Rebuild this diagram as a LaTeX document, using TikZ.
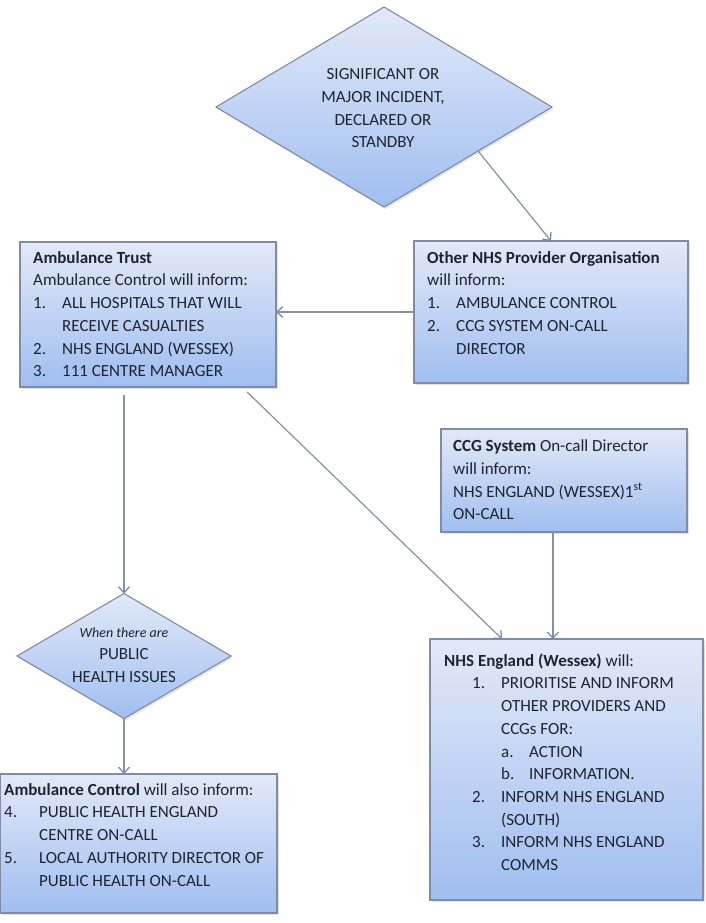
\documentclass[tikz,border=0pt]{standalone}
\usepackage{fontspec}
\setmainfont{Carlito}
\usetikzlibrary{shapes.geometric,arrows.meta,calc,shadows}
\definecolor{topc}{HTML}{E2E9F8}
\definecolor{botc}{HTML}{A0BEF0}
\definecolor{bordc}{HTML}{7F8CA4}
\definecolor{textc}{HTML}{1F2433}
\definecolor{linec}{HTML}{8A909C}
\definecolor{tipc}{HTML}{6F88B0}
\newcommand\fs{\fontsize{17}{22.7}\selectfont}
\newcommand\fst{\rule{0pt}{14pt}}
\newcommand\nb[2]{\makebox[#1][l]{#2}}
\tikzset{
  box/.style={draw=bordc, line width=1.1pt, top color=topc, bottom color=botc,
    inner sep=0pt, outer sep=0pt, anchor=north west,
    drop shadow={opacity=0.22, shadow xshift=1.5pt, shadow yshift=-2pt}},
  dia/.style={shape=diamond, draw=bordc, line width=1.1pt, top color=topc, bottom color=botc,
    inner sep=0pt, outer sep=0pt,
    drop shadow={opacity=0.22, shadow xshift=1.5pt, shadow yshift=-2pt}},
  txt/.style={font=\fs, text=textc, align=left, inner sep=0pt, anchor=north west},
  arr/.style={draw=linec, line width=1.2pt, -{Straight Barb[length=6pt,width=11pt,color=tipc]}},
}
\begin{document}
\begin{tikzpicture}[x=1pt,y=-1pt]
\useasboundingbox (0,0) rectangle (705,923);
% shapes
\node[dia, minimum width=336pt, minimum height=200pt] (inc) at (384,107) {};
\node[box, minimum width=256pt, minimum height=145pt] (amb) at (20,242) {};
\node[box, minimum width=274pt, minimum height=142pt] (oth) at (414,241) {};
\node[box, minimum width=246pt, minimum height=103pt] (ccg) at (441,429) {};
\node[dia, minimum width=214pt, minimum height=125pt] (phi) at (124,656) {};
\node[box, minimum width=273pt, minimum height=261pt] (nhs) at (430,639) {};
\node[box, minimum width=277pt, minimum height=139pt] (alo) at (0,774) {};
% texts
\node[txt, anchor=north, align=center] (incT) at (383,65.5)
  {\fst SIGNIFICANT OR\\MAJOR INCIDENT,\\DECLARED OR\\STANDBY};
\node[txt] (ambT) at (33,249)
  {\fst\textbf{Ambulance Trust}\\
   Ambulance Control will inform:\\
   \nb{29pt}{1.}ALL HOSPITALS THAT WILL\\
   \hspace*{29pt}RECEIVE CASUALTIES\\
   \nb{29pt}{2.}NHS ENGLAND (WESSEX)\\
   \nb{29pt}{3.}111 CENTRE MANAGER};
\node[txt] (othT) at (427,249)
  {\fst\textbf{Other NHS Provider Organisation}\\
   will inform:\\
   \nb{29pt}{1.}AMBULANCE CONTROL\\
   \nb{29pt}{2.}CCG SYSTEM ON-CALL\\
   \hspace*{29pt}DIRECTOR};
\node[txt] (ccgT) at (453,437.5)
  {\fst\textbf{CCG System} On-call Director\\
   will inform:\\
   NHS ENGLAND (WESSEX)1\textsuperscript{st}\\
   ON-CALL};
\node[txt, anchor=north, align=center] (phiT) at (124,623)
  {\fst{\fontsize{14}{23}\selectfont\itshape When there are}\\PUBLIC\\HEALTH ISSUES};
\node[txt] (nhsT) at (444,652)
  {\fst\textbf{NHS England (Wessex)} will:\\
   \hspace*{28pt}\nb{29pt}{1.}PRIORITISE AND INFORM\\
   \hspace*{57pt}OTHER PROVIDERS AND\\
   \hspace*{57pt}CCGs FOR:\\
   \hspace*{57pt}\nb{28pt}{a.}ACTION\\
   \hspace*{57pt}\nb{28pt}{b.}INFORMATION.\\
   \hspace*{28pt}\nb{29pt}{2.}INFORM NHS ENGLAND\\
   \hspace*{57pt}(SOUTH)\\
   \hspace*{28pt}\nb{29pt}{3.}INFORM NHS ENGLAND\\
   \hspace*{57pt}COMMS};
\node[txt] (aloT) at (4,781)
  {\fst\textbf{Ambulance Control} will also inform:\\
   \nb{35pt}{4.}PUBLIC HEALTH ENGLAND\\
   \hspace*{35pt}CENTRE ON-CALL\\
   \nb{35pt}{5.}LOCAL AUTHORITY DIRECTOR OF\\
   \hspace*{35pt}PUBLIC HEALTH ON-CALL};
% connectors
\draw[arr] ($(inc.east)!0.44!(inc.south)$) -- (oth.north);
\draw[arr] (oth.west) -- (oth.west -| amb.east);
\draw[arr, shorten <=8pt] (phi.north |- amb.south) -- (phi.north);
\coordinate (a1) at ($(amb.south west)!0.867!(amb.south east)$);
\coordinate (a2) at ($(nhs.north west)!0.264!(nhs.north east)$);
\draw[arr, shorten <=7pt] (a1) -- (a2);
\coordinate (c1) at ($(ccg.south west)!0.455!(ccg.south east)$);
\draw[arr] (c1) -- (c1 |- nhs.north);
\draw[arr] (phi.south) -- (phi.south |- alo.north);
\end{tikzpicture}
\end{document}
